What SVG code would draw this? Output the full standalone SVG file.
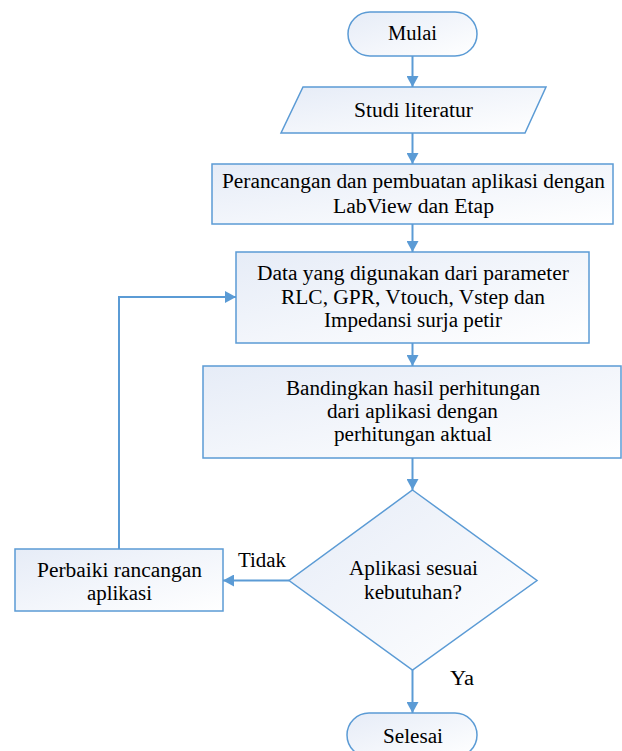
<svg xmlns="http://www.w3.org/2000/svg" width="622" height="751" viewBox="0 0 622 751">
<defs>
<linearGradient id="fillGrad" x1="0" y1="0" x2="1" y2="1">
<stop offset="0" stop-color="#E6ECF7"/>
<stop offset="1" stop-color="#FFFFFF"/>
</linearGradient>
<marker id="arrow" viewBox="0 0 11 12" refX="11" refY="6" markerWidth="11" markerHeight="12" markerUnits="userSpaceOnUse" orient="auto">
<path d="M0,0 L11,6 L0,12 z" fill="#5B9BD5"/>
</marker>
</defs>
<style>
.shape { fill: url(#fillGrad); stroke: #5B9BD5; stroke-width: 1.5; }
.conn { fill: none; stroke: #5B9BD5; stroke-width: 2; marker-end: url(#arrow); }
text { font-family: "Liberation Serif", "Times New Roman", serif; font-size: 20px; fill: #000; text-anchor: middle; }
</style>
<rect width="622" height="751" fill="#FFFFFF"/>

<g id="connectors">
<line class="conn" x1="412.5" y1="56" x2="412.5" y2="87"/>
<line class="conn" x1="412.5" y1="133" x2="412.5" y2="164"/>
<line class="conn" x1="412.5" y1="224" x2="412.5" y2="252"/>
<line class="conn" x1="412.5" y1="343" x2="412.5" y2="366"/>
<line class="conn" x1="412.5" y1="458" x2="412.5" y2="490"/>
<line class="conn" x1="412.5" y1="670" x2="412.5" y2="713"/>
<line class="conn" x1="289" y1="580.5" x2="223" y2="580.5"/>
<polyline class="conn" points="119,549 119,297 236,297"/>
<text x="262" y="567" textLength="48" lengthAdjust="spacingAndGlyphs">Tidak</text>
<text x="462" y="685" textLength="24" lengthAdjust="spacingAndGlyphs">Ya</text>
</g>

<g id="mulai">
<rect class="shape" x="348" y="12" width="129" height="44" rx="22" ry="22"/>
<text x="412.5" y="40" textLength="49" lengthAdjust="spacingAndGlyphs">Mulai</text>
</g>

<g id="studi">
<polygon class="shape" points="303,87 546,87 525,133 281,133"/>
<text x="413.5" y="117" textLength="119" lengthAdjust="spacingAndGlyphs">Studi literatur</text>
</g>

<g id="perancangan">
<rect class="shape" x="212" y="164" width="401" height="60"/>
<text x="413.5" y="188" textLength="383" lengthAdjust="spacingAndGlyphs">Perancangan dan pembuatan aplikasi dengan</text>
<text x="413.5" y="213" textLength="161" lengthAdjust="spacingAndGlyphs">LabView dan Etap</text>
</g>

<g id="data">
<rect class="shape" x="236" y="252" width="353" height="91"/>
<text x="413" y="280" textLength="312" lengthAdjust="spacingAndGlyphs">Data yang digunakan dari parameter</text>
<text x="413" y="304" textLength="264" lengthAdjust="spacingAndGlyphs">RLC, GPR, Vtouch, Vstep dan</text>
<text x="413" y="327" textLength="178" lengthAdjust="spacingAndGlyphs">Impedansi surja petir</text>
</g>

<g id="bandingkan">
<rect class="shape" x="203" y="366" width="418" height="92"/>
<text x="413" y="395" textLength="254" lengthAdjust="spacingAndGlyphs">Bandingkan hasil perhitungan</text>
<text x="412.5" y="418" textLength="171" lengthAdjust="spacingAndGlyphs">dari aplikasi dengan</text>
<text x="413" y="441" textLength="158" lengthAdjust="spacingAndGlyphs">perhitungan aktual</text>
</g>

<g id="keputusan">
<polygon class="shape" points="412.5,490 537,580.5 412.5,670 289,580.5"/>
<text x="413.5" y="575" textLength="129" lengthAdjust="spacingAndGlyphs">Aplikasi sesuai</text>
<text x="413" y="599" textLength="98" lengthAdjust="spacingAndGlyphs">kebutuhan?</text>
</g>

<g id="perbaiki">
<rect class="shape" x="15" y="549" width="208" height="62"/>
<text x="119.5" y="577" textLength="165" lengthAdjust="spacingAndGlyphs">Perbaiki rancangan</text>
<text x="119.5" y="600" textLength="65" lengthAdjust="spacingAndGlyphs">aplikasi</text>
</g>

<g id="selesai">
<rect class="shape" x="347" y="713" width="130" height="44" rx="22" ry="22"/>
<text x="413" y="743" textLength="60" lengthAdjust="spacingAndGlyphs">Selesai</text>
</g>
</svg>
